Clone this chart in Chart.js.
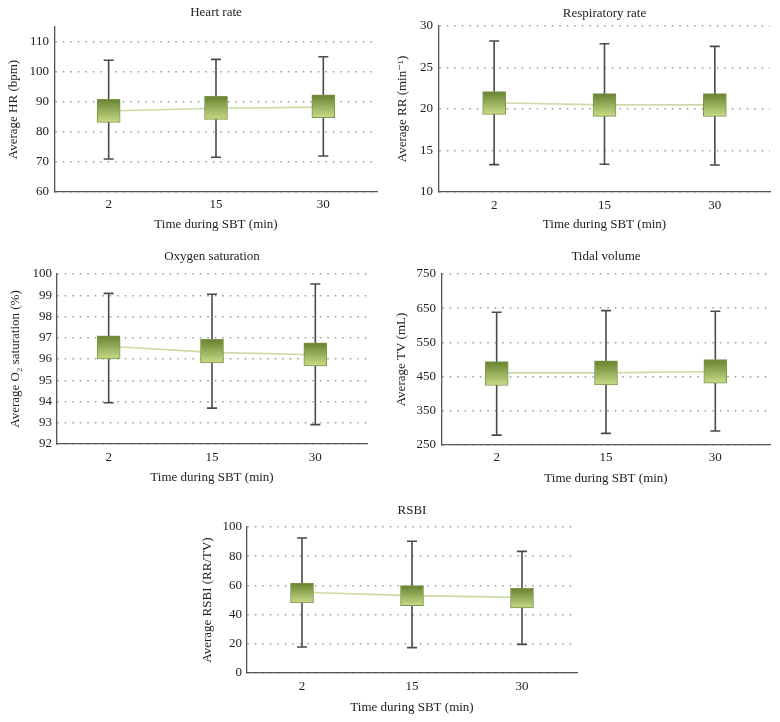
<!DOCTYPE html>
<html>
<head>
<meta charset="utf-8">
<script src="https://cdn.jsdelivr.net/npm/chart.js@4.4.1/dist/chart.umd.min.js"></script>
<style>
  body { margin: 0; background: #fff; }
  #page { position: relative; width: 780px; height: 722px; }
  .box { position: absolute; }
</style>
</head>
<body>
<div id="page"></div>
<script>
const times = ["2", "15", "30"];

const hrMean = [87.0, 87.9, 88.3];
const hrBoxLow = [83.2, 84.2, 84.8];
const hrBoxHigh = [90.9, 91.9, 92.4];
const hrMin = [71.0, 71.6, 72.0];
const hrMax = [103.9, 104.2, 105.1];

const rrMean = [20.75, 20.5, 20.5];
const rrBoxLow = [19.36, 19.12, 19.1];
const rrBoxHigh = [22.1, 21.85, 21.85];
const rrMin = [13.3, 13.34, 13.25];
const rrMax = [28.2, 27.87, 27.55];

const o2Mean = [96.6, 96.31, 96.2];
const o2BoxLow = [96.0, 95.81, 95.68];
const o2BoxHigh = [97.09, 96.92, 96.76];
const o2Min = [93.94, 93.69, 92.91];
const o2Max = [99.09, 99.05, 99.53];

const tvMean = [461, 461, 465];
const tvBoxLow = [424, 426, 431];
const tvBoxHigh = [494, 496, 500];
const tvMin = [279, 284, 291];
const tvMax = [638, 643, 641];

const rsbiMean = [55.3, 53.0, 51.8];
const rsbiBoxLow = [48.0, 46.1, 44.5];
const rsbiBoxHigh = [61.6, 59.8, 58.0];
const rsbiMin = [17.8, 17.4, 19.6];
const rsbiMax = [92.5, 90.2, 83.3];

const FONT = "'Liberation Serif', 'DejaVu Serif', serif";
const LH = 13 * 1.2;

function makeChart(c) {
  const div = document.createElement("div");
  div.className = "box";
  div.style.left = c.box.x + "px";
  div.style.top = c.box.y + "px";
  div.style.width = c.box.w + "px";
  div.style.height = c.box.h + "px";
  const canvas = document.createElement("canvas");
  div.appendChild(canvas);
  document.getElementById("page").appendChild(div);

  const titleTop = c.titleC - c.box.y - LH / 2;
  const titleBottom = c.area.t - c.box.y - LH - titleTop;

  // whiskers drawn behind the boxes
  const whiskers = {
    id: "whiskers",
    beforeDatasetsDraw(chart) {
      const { ctx, scales } = chart;
      ctx.save();
      ctx.strokeStyle = "#4a4a4a";
      ctx.lineWidth = 1.6;
      c.min.forEach((lo, i) => {
        const x = scales.x.getPixelForValue(i);
        const y1 = scales.y.getPixelForValue(lo);
        const y2 = scales.y.getPixelForValue(c.max[i]);
        ctx.beginPath();
        ctx.moveTo(x, y1);
        ctx.lineTo(x, y2);
        ctx.moveTo(x - 5, y1);
        ctx.lineTo(x + 5, y1);
        ctx.moveTo(x - 5, y2);
        ctx.lineTo(x + 5, y2);
        ctx.stroke();
      });
      ctx.restore();
    }
  };

  new Chart(canvas, {
    type: "bar",
    data: {
      labels: times,
      datasets: [
        {
          type: "bar",
          data: c.low.map((v, i) => [v, c.high[i]]),
          barThickness: 23,
          borderWidth: 1,
          borderColor: "#7f9452",
          borderSkipped: false,
          order: 0,
          backgroundColor: (ctx) => {
            const chart = ctx.chart;
            const y = chart.scales.y;
            if (!y || ctx.dataIndex == null || !ctx.raw) return "#9cb35c";
            const top = y.getPixelForValue(ctx.raw[1]);
            const bot = y.getPixelForValue(ctx.raw[0]);
            if (!isFinite(top) || !isFinite(bot)) return "#9cb35c";
            const g = chart.ctx.createLinearGradient(0, top, 0, bot);
            g.addColorStop(0, "#66822f");
            g.addColorStop(1, "#c8db86");
            return g;
          }
        },
        {
          type: "line",
          data: c.mean,
          borderColor: "#cbdba5",
          borderWidth: 1.6,
          pointRadius: 0,
          fill: false,
          order: 1
        }
      ]
    },
    options: {
      responsive: true,
      maintainAspectRatio: false,
      animation: false,
      layout: {
        padding: { left: 0, top: 0, bottom: 0, right: c.box.x + c.box.w - c.area.r }
      },
      plugins: {
        legend: { display: false },
        tooltip: { enabled: false },
        title: {
          display: true,
          text: c.title,
          fullSize: false,
          color: "#222",
          font: { family: FONT, size: 13, weight: "normal" },
          padding: { top: titleTop, bottom: titleBottom }
        }
      },
      scales: {
        x: {
          offset: true,
          grid: { display: false, drawTicks: false },
          border: { display: true, color: "#555", width: 1.3 },
          ticks: {
            color: "#222",
            font: { family: FONT, size: 13 },
            padding: c.xTickC - c.area.b - LH / 2
          },
          title: {
            display: true,
            text: "Time during SBT (min)",
            color: "#222",
            font: { family: FONT, size: 13 },
            padding: { top: 0, bottom: c.box.y + c.box.h - c.xTitleC - LH / 2 }
          },
          afterFit: (s) => { s.height = c.box.y + c.box.h - c.area.b; }
        },
        y: {
          min: c.yMin,
          max: c.yMax,
          grid: { color: "#999", lineWidth: 1.5, drawTicks: false },
          border: { display: true, color: "#555", width: 1.3, dash: [1.5, 6] },
          ticks: {
            stepSize: c.step,
            color: "#222",
            font: { family: FONT, size: 13 },
            padding: c.area.l - c.tickRight
          },
          afterBuildTicks: (s) => {
            s.ticks = s.ticks.filter((t) => t.value <= c.tickTop);
          },
          title: {
            display: true,
            text: c.yTitle,
            color: "#222",
            font: { family: FONT, size: 13 },
            padding: { top: c.yTitleC - c.box.x - LH / 2, bottom: 0 }
          },
          afterFit: (s) => { s.width = c.area.l - c.box.x; }
        }
      }
    },
    plugins: [whiskers]
  });
}

makeChart({
  title: "Heart rate", yTitle: "Average HR (bpm)",
  mean: hrMean, low: hrBoxLow, high: hrBoxHigh, min: hrMin, max: hrMax,
  yMin: 60, yMax: 115, step: 10, tickTop: 110,
  box: { x: 0, y: 0, w: 390, h: 240 }, area: { l: 55, t: 27, r: 377, b: 192 },
  titleC: 13, yTitleC: 14, tickRight: 49, xTickC: 205, xTitleC: 225
});

makeChart({
  title: "Respiratory rate", yTitle: "Average RR (min\u207B\u00B9)",
  mean: rrMean, low: rrBoxLow, high: rrBoxHigh, min: rrMin, max: rrMax,
  yMin: 10, yMax: 30, step: 5, tickTop: 30,
  box: { x: 390, y: 0, w: 390, h: 240 }, area: { l: 439, t: 26, r: 770, b: 192 },
  titleC: 14, yTitleC: 403, tickRight: 433, xTickC: 206, xTitleC: 225
});

makeChart({
  title: "Oxygen saturation", yTitle: "Average O\u2082 saturation (%)",
  mean: o2Mean, low: o2BoxLow, high: o2BoxHigh, min: o2Min, max: o2Max,
  yMin: 92, yMax: 100, step: 1, tickTop: 100,
  box: { x: 0, y: 240, w: 390, h: 250 }, area: { l: 57, t: 274, r: 367, b: 444 },
  titleC: 257, yTitleC: 16, tickRight: 52, xTickC: 458, xTitleC: 478
});

makeChart({
  title: "Tidal volume", yTitle: "Average TV (mL)",
  mean: tvMean, low: tvBoxLow, high: tvBoxHigh, min: tvMin, max: tvMax,
  yMin: 250, yMax: 750, step: 100, tickTop: 750,
  box: { x: 390, y: 240, w: 390, h: 250 }, area: { l: 442, t: 274, r: 770, b: 445 },
  titleC: 257, yTitleC: 402, tickRight: 436, xTickC: 458, xTitleC: 479
});

makeChart({
  title: "RSBI", yTitle: "Average RSBI (RR/TV)",
  mean: rsbiMean, low: rsbiBoxLow, high: rsbiBoxHigh, min: rsbiMin, max: rsbiMax,
  yMin: 0, yMax: 100, step: 20, tickTop: 100,
  box: { x: 190, y: 480, w: 400, h: 242 }, area: { l: 247, t: 527, r: 577, b: 673 },
  titleC: 511, yTitleC: 208, tickRight: 242, xTickC: 687, xTitleC: 708
});
</script>
</body>
</html>
